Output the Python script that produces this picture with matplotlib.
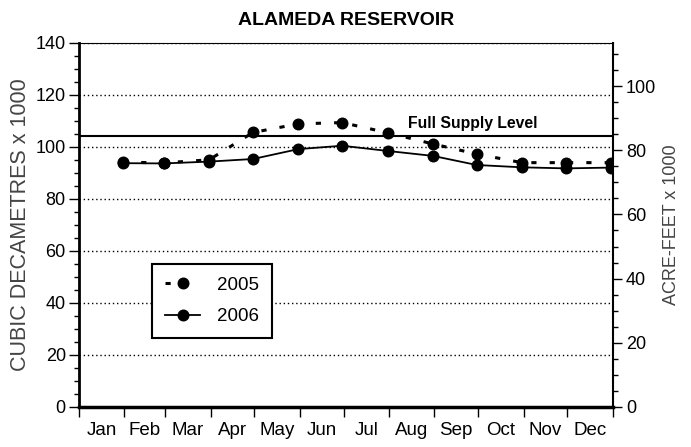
import numpy as np
import matplotlib.pyplot as plt
from matplotlib.ticker import MultipleLocator, FixedLocator, NullFormatter

plt.rcParams['font.family'] = ['Liberation Sans', 'DejaVu Sans']

    # Data (thousands of cubic decametres, end of month)
months = ['Jan', 'Feb', 'Mar', 'Apr', 'May', 'Jun',
          'Jul', 'Aug', 'Sep', 'Oct', 'Nov', 'Dec']
days_in_month = [31, 28, 31, 30, 31, 30, 31, 31, 30, 31, 30, 31]
vol_2005 = [94.1, 93.8, 95.0, 105.5, 108.8, 109.3, 105.4, 101.1, 97.2, 93.9, 93.9, 93.9]
vol_2006 = [93.7, 93.6, 94.3, 95.3, 99.1, 100.4, 98.4, 96.5, 93.0, 92.1, 91.7, 92.0]
full_supply = 104.2
dam3_per_acft = 1.23348

bounds = np.concatenate([[0], np.cumsum(days_in_month)])
mids = (bounds[:-1] + bounds[1:]) / 2
x_pts = bounds[1:] - 1

fig = plt.figure(figsize=(6.91, 4.47), dpi=100)
ax = fig.add_axes([0.1143, 0.0895, 0.7724, 0.8150])

    # grid and reference line
for g in range(20, 141, 20):
    ax.axhline(g, color='black', lw=1, linestyle=(0, (1, 2)), zorder=1)
ax.axhline(full_supply, color='black', lw=1.5, zorder=2)
ax.text(225, 107.1, 'Full Supply Level', fontsize=11.3, fontweight='bold',
        va='baseline', ha='left')

ax.plot(x_pts, vol_2005, color='black', lw=2.2, linestyle=(0, (1.7, 4.3)),
        dash_capstyle='butt', marker='o', markersize=7.6, label='2005', zorder=3)
ax.plot(x_pts, vol_2006, color='black', lw=1.3, marker='o', markersize=7.6,
        label='2006', zorder=3)

ax.set_xlim(0, 365)
ax.set_ylim(0, 140)
ax.xaxis.set_major_locator(FixedLocator(bounds))
ax.xaxis.set_major_formatter(NullFormatter())
ax.xaxis.set_minor_locator(FixedLocator(mids))
ax.set_xticklabels(months, minor=True)
ax.tick_params(axis='x', which='major', direction='out', length=7, width=1)
ax.tick_params(axis='x', which='minor', length=0, pad=11, labelsize=13.5)

ax.yaxis.set_major_locator(MultipleLocator(20))
ax.yaxis.set_minor_locator(MultipleLocator(5))
ax.tick_params(axis='y', which='major', direction='out', length=7.5, width=1,
               pad=2, labelsize=13)
ax.tick_params(axis='y', which='minor', direction='out', length=3.8, width=1)
ax.set_ylabel('CUBIC DECAMETRES x 1000', fontsize=15.5, color='#444444', labelpad=3)

ax.spines['left'].set_linewidth(2)
ax.spines['bottom'].set_linewidth(2.5)
ax.spines['top'].set_linewidth(0.8)
ax.spines['right'].set_linewidth(1.5)

ax2 = ax.twinx()
ax2.set_ylim(0, 140 / dam3_per_acft)
ax2.yaxis.set_major_locator(MultipleLocator(20))
ax2.yaxis.set_minor_locator(MultipleLocator(5))
ax2.tick_params(axis='y', which='major', direction='out', length=6.5, width=1,
                pad=3, labelsize=13)
ax2.tick_params(axis='y', which='minor', direction='out', length=3.8, width=1)
ax2.set_ylabel('ACRE-FEET x 1000', fontsize=13, color='#444444', labelpad=5)
for s in ax2.spines.values():
    s.set_visible(False)

ax.set_title('ALAMEDA RESERVOIR', fontsize=14, fontweight='bold', pad=13)

leg = ax.legend(loc='lower left', bbox_to_anchor=(0.136, 0.1886), fontsize=13.5,
                frameon=True, fancybox=False, edgecolor='black', framealpha=1,
                handlelength=1.9, handletextpad=0.9, borderpad=0.7,
                labelspacing=0.75, borderaxespad=0)
leg.get_frame().set_linewidth(1.5)

plt.savefig('out.png', dpi=100)
